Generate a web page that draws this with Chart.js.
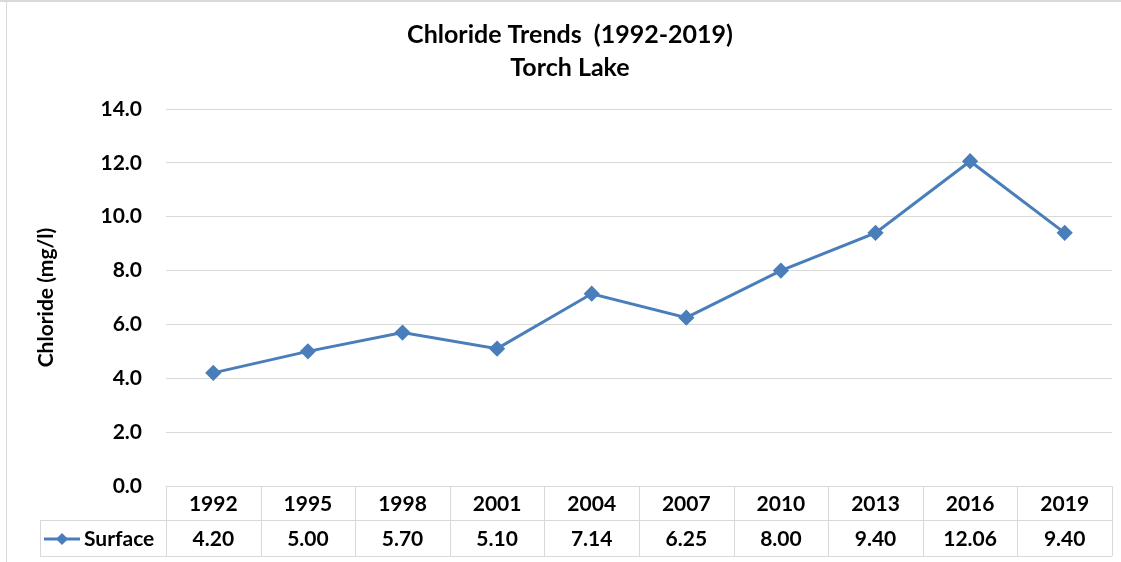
<!DOCTYPE html>
<html>
<head>
<meta charset="utf-8">
<script src="https://cdn.jsdelivr.net/npm/chart.js@4"></script>
<style>
  html, body { margin: 0; padding: 0; background: #fff; }
  #wrap { width: 1121px; height: 562px; position: relative; }
</style>
</head>
<body>
<div id="wrap"><canvas id="myChart" width="1121" height="562"></canvas></div>
<script>
// data
let years = ['1992', '1995', '1998', '2001', '2004', '2007', '2010', '2013', '2016', '2019'];
let surface = [4.20, 5.00, 5.70, 5.10, 7.14, 6.25, 8.00, 9.40, 12.06, 9.40];
let titleLines = ['Chloride Trends  (1992-2019)', 'Torch Lake'];
let seriesName = 'Surface';

let lineColor = '#4a7ebb';
let gridColor = '#d9d9d9';
let fontFamily = 'Lato, "Open Sans", sans-serif';

// draws the title, the outer frame and the Excel style data table under the plot
let tablePlugin = {
    id: 'dataTable',
    afterDraw(chart) {
        let c = chart.ctx;
        let x = chart.scales.x;
        let area = chart.chartArea;
        let step = (area.right - area.left) / years.length;
        let top = area.bottom;
        let mid = top + 34;
        let bot = top + 70;
        let legLeft = 40;

        c.save();
        // frame
        c.fillStyle = gridColor;
        c.fillRect(0, 0, 1121, 2);
        c.fillRect(6, 0, 1, 562);

        // title
        c.fillStyle = '#000';
        c.textAlign = 'center';
        c.textBaseline = 'middle';
        c.font = 'bold 25px ' + fontFamily;
        c.fillText(titleLines[0], 570, 35);
        c.fillText(titleLines[1], 570, 68);

        // table lines
        c.strokeStyle = gridColor;
        c.lineWidth = 1;
        c.beginPath();
        c.moveTo(area.left, top + 0.5); c.lineTo(area.right, top + 0.5);
        c.moveTo(legLeft, mid + 0.5); c.lineTo(area.right, mid + 0.5);
        c.moveTo(legLeft, bot + 0.5); c.lineTo(area.right, bot + 0.5);
        c.moveTo(legLeft + 0.5, mid); c.lineTo(legLeft + 0.5, bot);
        for (let i = 0; i <= years.length; i++) {
            let px = Math.round(area.left + i * step) + 0.5;
            c.moveTo(px, top); c.lineTo(px, bot);
        }
        c.stroke();

        // table text
        c.fillStyle = '#000';
        c.font = 'bold 21px ' + fontFamily;
        years.forEach((y, i) => {
            let cx = x.getPixelForValue(i);
            c.fillText(y, cx, (top + mid) / 2 + 1);
            c.fillText(surface[i].toFixed(2), cx, (mid + bot) / 2 + 1);
        });

        // legend key
        let ky = (mid + bot) / 2 + 1;
        c.strokeStyle = lineColor;
        c.lineWidth = 3;
        c.beginPath();
        c.moveTo(44, ky); c.lineTo(80, ky);
        c.stroke();
        c.fillStyle = lineColor;
        c.beginPath();
        c.moveTo(62, ky - 6); c.lineTo(68, ky); c.lineTo(62, ky + 6); c.lineTo(56, ky);
        c.closePath();
        c.fill();
        c.fillStyle = '#000';
        c.textAlign = 'left';
        c.font = 'bold 21px ' + fontFamily;
        c.fillText(seriesName, 84, ky);
        c.restore();
    }
};

let ctx = document.getElementById('myChart').getContext('2d');

let chart = new Chart(ctx, {
    type: 'line',
    data: {
        labels: years,
        datasets: [{
            label: seriesName,
            data: surface,
            borderColor: lineColor,
            backgroundColor: lineColor,
            borderWidth: 3,
            pointStyle: 'rectRot',
            pointRadius: 6,
            pointHoverRadius: 6,
            tension: 0
        }]
    },
    options: {
        responsive: false,
        animation: false,
        layout: { padding: { top: 109, left: 6, right: 9, bottom: 6 } },
        plugins: {
            legend: { display: false },
            title: { display: false },
            tooltip: { enabled: false }
        },
        scales: {
            x: {
                offset: true,
                grid: { display: false },
                border: { display: false },
                ticks: { display: false },
                afterFit(scale) { scale.height = 70; }
            },
            y: {
                min: 0,
                max: 14,
                ticks: {
                    stepSize: 2,
                    padding: 24,
                    color: '#000',
                    font: { family: fontFamily, size: 21, weight: 'bold' },
                    callback: v => v.toFixed(1)
                },
                grid: { color: gridColor, drawTicks: false },
                border: { display: false },
                title: {
                    display: true,
                    text: 'Chloride (mg/l)',
                    color: '#000',
                    font: { family: fontFamily, size: 21, weight: 'bold' },
                    padding: { top: 28, bottom: 0 }
                },
                afterFit(scale) { scale.width = 160; }
            }
        }
    },
    plugins: [tablePlugin]
});
</script>
</body>
</html>
